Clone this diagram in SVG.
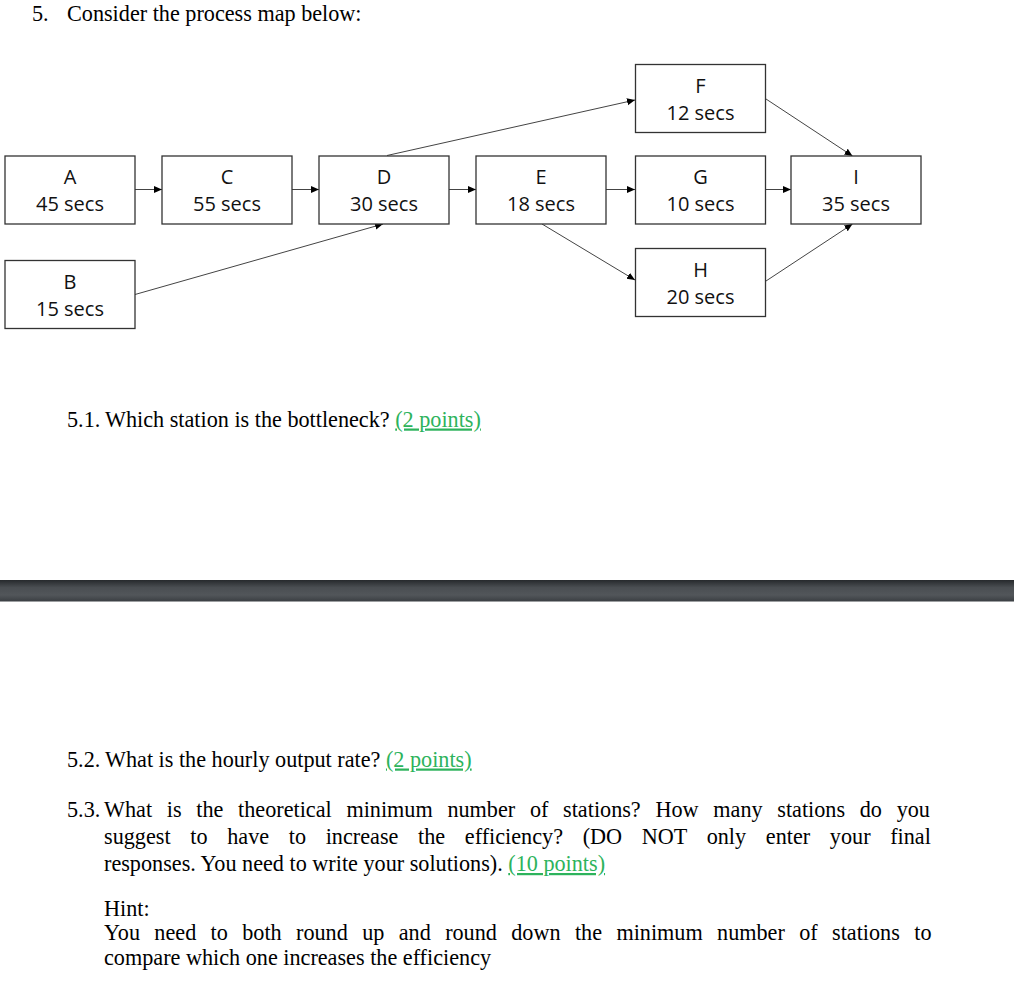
<svg xmlns="http://www.w3.org/2000/svg" width="1014" height="985" viewBox="0 0 1014 985">
<style>
.box{fill:#fff;stroke:#333;stroke-width:1.3}
.lbl{font-family:"Open Sans","Liberation Sans",sans-serif;font-size:20px;fill:#111;text-anchor:middle}
.con{stroke:#444;stroke-width:1;fill:none;marker-end:url(#ah)}
.t{font-family:"Liberation Serif","Times New Roman",serif;font-size:22.2px;fill:#000}
.g{fill:#2db35c;text-decoration:underline}
</style>
<defs>
<marker id="ah" markerUnits="userSpaceOnUse" markerWidth="9" markerHeight="8" refX="8" refY="3.5" orient="auto">
<path d="M0,0 L8,3.5 L0,7 Z" fill="#000"/>
</marker>
<linearGradient id="bar" x1="0" y1="0" x2="0" y2="1">
<stop offset="0" stop-color="#26292c"/>
<stop offset="0.35" stop-color="#4a4e52"/>
<stop offset="0.7" stop-color="#52565a"/>
<stop offset="1" stop-color="#3a3e42"/>
</linearGradient>
</defs>
<rect width="1014" height="985" fill="#fff"/>
<text class="t" x="32" y="21">5.</text>
<text class="t" x="67" y="21">Consider the process map below:</text>

<g id="connectors">
<line class="con" x1="135" y1="189.5" x2="162" y2="189.5"/>
<line class="con" x1="292" y1="189.5" x2="319" y2="189.5"/>
<line class="con" x1="449" y1="189.5" x2="476" y2="189.5"/>
<line class="con" x1="606" y1="189.5" x2="635" y2="189.5"/>
<line class="con" x1="766" y1="189.5" x2="791" y2="189.5"/>
<line class="con" x1="387" y1="155.5" x2="635" y2="100"/>
<line class="con" x1="135" y1="294.5" x2="383" y2="224"/>
<line class="con" x1="542" y1="224" x2="635" y2="280"/>
<line class="con" x1="766" y1="99" x2="852.5" y2="156"/>
<line class="con" x1="766" y1="281" x2="852.5" y2="224"/>
</g>

<g id="A"><rect class="box" x="5" y="156" width="130" height="68"/><text class="lbl" x="70" y="184">A</text><text class="lbl" x="70" y="211">45 secs</text></g>
<g id="B"><rect class="box" x="5" y="260.5" width="130" height="68"/><text class="lbl" x="70" y="288.5">B</text><text class="lbl" x="70" y="315.5">15 secs</text></g>
<g id="C"><rect class="box" x="162" y="156" width="130" height="68"/><text class="lbl" x="227" y="184">C</text><text class="lbl" x="227" y="211">55 secs</text></g>
<g id="D"><rect class="box" x="319" y="156" width="130" height="68"/><text class="lbl" x="384" y="184">D</text><text class="lbl" x="384" y="211">30 secs</text></g>
<g id="E"><rect class="box" x="476" y="156" width="130" height="68"/><text class="lbl" x="541" y="184">E</text><text class="lbl" x="541" y="211">18 secs</text></g>
<g id="F"><rect class="box" x="635.5" y="64.5" width="130" height="68"/><text class="lbl" x="700.5" y="92.5">F</text><text class="lbl" x="700.5" y="119.5">12 secs</text></g>
<g id="G"><rect class="box" x="635.5" y="156" width="130" height="68"/><text class="lbl" x="700.5" y="184">G</text><text class="lbl" x="700.5" y="211">10 secs</text></g>
<g id="H"><rect class="box" x="635.5" y="248.5" width="130" height="68"/><text class="lbl" x="700.5" y="276.5">H</text><text class="lbl" x="700.5" y="303.5">20 secs</text></g>
<g id="I"><rect class="box" x="791" y="156" width="130" height="68"/><text class="lbl" x="856" y="184">I</text><text class="lbl" x="856" y="211">35 secs</text></g>

<text class="t" x="67" y="426.5">5.1.</text>
<text class="t" x="105" y="426.5">Which station is the bottleneck? <tspan class="g">(2 points)</tspan></text>

<rect x="0" y="580" width="1014" height="21.5" fill="url(#bar)"/>

<text class="t" x="67" y="766.5">5.2.</text>
<text class="t" x="105" y="766.5">What is the hourly output rate? <tspan class="g">(2 points)</tspan></text>

<text class="t" x="67" y="816.5">5.3.</text>
<text class="t" x="104" y="816.5" word-spacing="9.16">What is the theoretical minimum number of stations? How many stations do you</text>
<text class="t" x="104" y="844" word-spacing="14.14">suggest to have to increase the efficiency? (DO NOT only enter your final</text>
<text class="t" x="104" y="871">responses. You need to write your solutions). <tspan class="g">(10 points)</tspan></text>

<text class="t" x="104" y="915.5">Hint:</text>
<text class="t" x="104" y="939.5" word-spacing="8.82">You need to both round up and round down the minimum number of stations to</text>
<text class="t" x="104" y="964.5">compare which one increases the efficiency</text>
</svg>
